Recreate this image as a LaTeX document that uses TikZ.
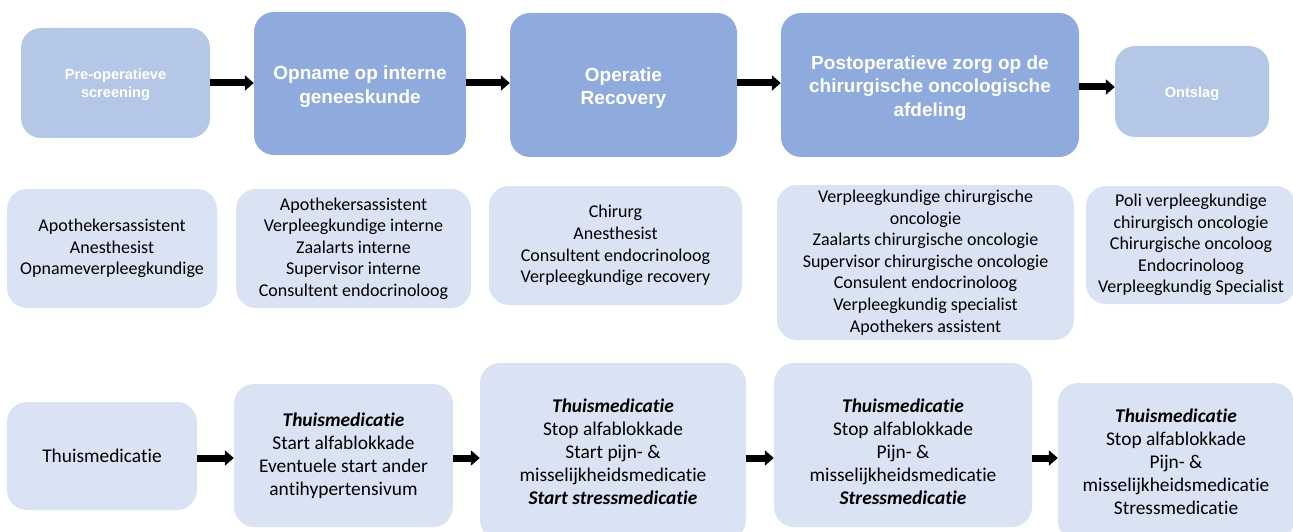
\documentclass[tikz,border=0pt]{standalone}
\usepackage{fontspec}
\setmainfont{Carlito}[Ligatures={NoCommon,NoRequired,NoContextual}]
\newfontfamily\hdrfont{Liberation Sans}
\usetikzlibrary{arrows.meta}
\definecolor{hdrdark}{HTML}{8FAADC}
\definecolor{hdrlight}{HTML}{B4C7E7}
\definecolor{boxfill}{HTML}{DAE3F3}
\tikzset{
  card/.style={rounded corners=20pt, inner sep=0pt, align=center},
  phase/.style={card, fill=hdrdark},
  phaselight/.style={card, fill=hdrlight},
  phasetxt/.style={inner sep=0pt, align=center, text=white, yshift=-3pt,
    font=\hdrfont\bfseries\fontsize{19}{23.5}\selectfont},
  phasetxtsmall/.style={inner sep=0pt, align=center, text=white, yshift=-2pt,
    font=\hdrfont\bfseries\fontsize{14.6}{18}\selectfont},
  staff/.style={card, fill=boxfill, text=black,
    font=\fontsize{18}{21.6}\selectfont},
  meds/.style={card, fill=boxfill, text=black,
    font=\fontsize{19.4}{23.1}\selectfont},
  medtext/.style={inner sep=0pt, align=center, text=black,
    font=\fontsize{19.4}{23.1}\selectfont},
  flow/.style={line width=7pt, -{Triangle[length=9pt,width=15pt]}, black}
}
\begin{document}
\begin{tikzpicture}[x=1pt,y=-1pt]
\useasboundingbox (0,0) rectangle (1293,532);

% phases
\node[phaselight, minimum width=189pt, minimum height=110pt,
  label={[phasetxtsmall]center:{Pre-operatieve\\screening}}] (h1) at (115.5,83) {};
\node[phase, minimum width=212pt, minimum height=143pt,
  label={[phasetxt]center:{Opname op interne\\geneeskunde}}] (h2) at (360,83.5) {};
\node[phase, minimum width=227pt, minimum height=144pt,
  label={[phasetxt]center:{Operatie\\Recovery}}] (h3) at (623.5,85) {};
\node[phase, minimum width=298pt, minimum height=144pt,
  label={[phasetxt]center:{Postoperatieve zorg op de\\chirurgische oncologische\\afdeling}}] (h4) at (930,85) {};
\node[phaselight, minimum width=154pt, minimum height=91pt,
  label={[phasetxtsmall]center:{Ontslag}}] (h5) at (1192,91.5) {};

\draw[flow] (h1.east |- 0,83) -- (h2.west |- 0,83);
\draw[flow] (h2.east |- 0,83) -- (h3.west |- 0,83);
\draw[flow] (h3.east |- 0,83) -- (h4.west |- 0,83);
\draw[flow] (h4.east |- 0,87) -- (h5.west |- 0,87);

% staff involved per phase
\node[staff, minimum width=210pt, minimum height=119pt] (m1) at (112,248.5)
  {Apothekersassistent\\Anesthesist\\Opnameverpleegkundige};
\node[staff, minimum width=235pt, minimum height=119pt] (m2) at (353.5,248.5)
  {Apothekersassistent\\Verpleegkundige interne\\Zaalarts interne\\Supervisor interne\\Consultent endocrinoloog};
\node[staff, minimum width=253pt, minimum height=119pt] (m3) at (615.5,245.5)
  {Chirurg\\Anesthesist\\Consultent endocrinoloog\\Verpleegkundige recovery};
\node[staff, minimum width=297pt, minimum height=155pt] (m4) at (925.5,262.5)
  {Verpleegkundige chirurgische\\oncologie\\Zaalarts chirurgische oncologie\\Supervisor chirurgische oncologie\\Consulent endocrinoloog\\Verpleegkundig specialist\\Apothekers assistent};
\node[staff, minimum width=210pt, minimum height=118pt] (m5) at (1191,245)
  {Poli verpleegkundige\\chirurgisch oncologie\\Chirurgische oncoloog\\Endocrinoloog\\Verpleegkundig Specialist};

% medication per phase
\node[meds, minimum width=190pt, minimum height=108pt] (b1) at (102,456)
  {Thuismedicatie};
\node[meds, minimum width=219pt, minimum height=143pt] (b2) at (343.5,455.5)
  {\textbf{\textit{Thuismedicatie}}\\Start alfablokkade\\Eventuele start ander\\antihypertensivum};
\node[meds, minimum width=266pt, minimum height=177pt] (b3) at (613,451.5)
  {\textbf{\textit{Thuismedicatie}}\\Stop alfablokkade\\Start pijn- \&\\misselijkheidsmedicatie\\\textbf{\textit{Start stressmedicatie}}};
\node[meds, minimum width=258pt, minimum height=164pt] (b4) at (903,445) {};
\node[medtext] (b4t) at (903,451.5)
  {\textbf{\textit{Thuismedicatie}}\\Stop alfablokkade\\Pijn- \&\\misselijkheidsmedicatie\\\textbf{\textit{Stressmedicatie}}};
\node[meds, minimum width=236pt, minimum height=158pt] (b5) at (1176,462)
  {\textbf{\textit{Thuismedicatie}}\\Stop alfablokkade\\Pijn- \&\\misselijkheidsmedicatie\\Stressmedicatie};

\draw[flow] (b1.east |- 0,458) -- (b2.west |- 0,458);
\draw[flow] (b2.east |- 0,458) -- (b3.west |- 0,458);
\draw[flow] (b3.east |- 0,458) -- (b4.west |- 0,458);
\draw[flow] (b4.east |- 0,458) -- (b5.west |- 0,458);
\end{tikzpicture}
\end{document}
